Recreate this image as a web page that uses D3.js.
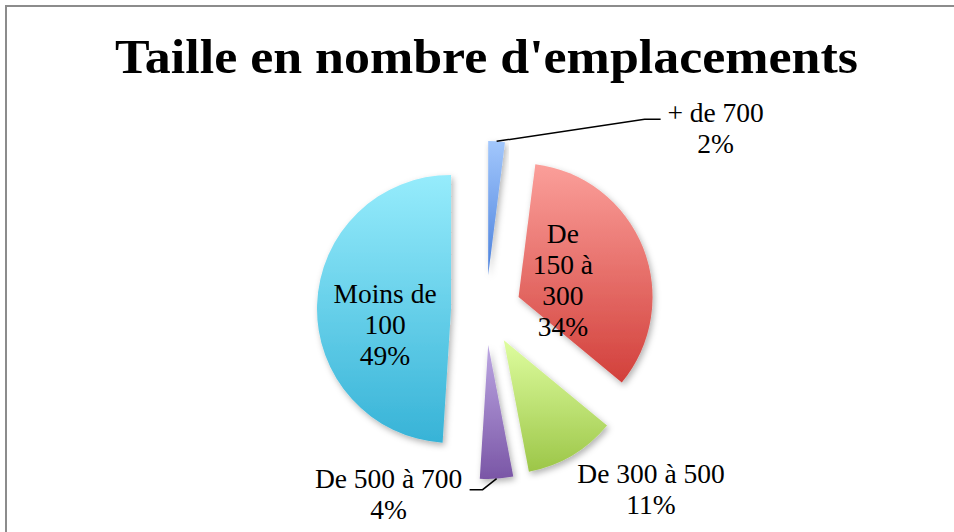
<!DOCTYPE html>
<html>
<head>
<meta charset="utf-8">
<script src="https://cdn.jsdelivr.net/npm/d3@7"></script>
<style>
  body { margin: 0; background: #fff; }
  svg { display: block; }
</style>
</head>
<body>
<svg id="drawing_region"></svg>
<script>
// data, clockwise from 12 o'clock
const categories = ["+ de 700", "De 150 à 300", "De 300 à 500", "De 500 à 700", "Moins de 100"];
const percents = [2, 34, 11, 4, 49];
const labelLines = [
    ["+ de 700", "2%"],
    ["De", "150 à", "300", "34%"],
    ["De 300 à 500", "11%"],
    ["De 500 à 700", "4%"],
    ["Moins de", "100", "49%"]
];
const topColors = ["#a2c7fc", "#fb9f9a", "#defd9f", "#bca7e3", "#96ecfc"];
const bottomColors = ["#4a80dc", "#d2403b", "#9cc648", "#7a56a6", "#37b3d7"];

var config = {
    parent: '#drawing_region',
    width: 954,
    height: 532,
    cx: 486,
    cy: 310,
    radius: 134,
    explode: 35
};

// label placement: inside labels relative to the half-radius point,
// outside labels relative to the outer arc point
const labelLayout = [
    { where: 'out', dx: 219, dy: -19, leader: [[148, -22], [164, -22]] },
    { where: 'in', dx: -18, dy: -29 },
    { where: 'out', dx: 79, dy: 28 },
    { where: 'out', dx: -108, dy: 9, leader: [[-14, 11], [-27, 11]] },
    { where: 'in', dx: 1, dy: -4 }
];
const lineHeight = 31;

const data = categories.map((c, i) => ({ name: c, value: percents[i], i: i }));

const svg = d3.select(config.parent)
    .attr('width', config.width)
    .attr('height', config.height);

// frame
svg.append('rect')
    .attr('x', 6).attr('y', 6)
    .attr('width', config.width + 10).attr('height', config.height + 10)
    .attr('fill', '#fff')
    .attr('stroke', '#8c8c8c')
    .attr('stroke-width', 2);

const defs = svg.append('defs');

const shadow = defs.append('filter')
    .attr('id', 'shadow')
    .attr('x', '-20%').attr('y', '-20%')
    .attr('width', '140%').attr('height', '140%');
shadow.append('feDropShadow')
    .attr('dx', 2).attr('dy', 3)
    .attr('stdDeviation', 3)
    .attr('flood-color', '#000')
    .attr('flood-opacity', 0.3);

data.forEach(d => {
    const g = defs.append('linearGradient')
        .attr('id', 'grad' + d.i)
        .attr('x1', 0).attr('y1', 0)
        .attr('x2', 0).attr('y2', 1);
    g.append('stop').attr('offset', '0%').attr('stop-color', topColors[d.i]);
    g.append('stop').attr('offset', '100%').attr('stop-color', bottomColors[d.i]);
});

// title
svg.append('text')
    .attr('x', 486.5)
    .attr('y', 73)
    .attr('text-anchor', 'middle')
    .attr('font-family', '"Liberation Serif", serif')
    .attr('font-weight', 'bold')
    .attr('font-size', '49px')
    .attr('textLength', 743)
    .attr('lengthAdjust', 'spacingAndGlyphs')
    .text("Taille en nombre d'emplacements");

const pie = d3.pie()
    .sort(null)
    .value(d => d.value)
    .startAngle(0)
    .endAngle(2 * Math.PI);

const arc = d3.arc()
    .innerRadius(0)
    .outerRadius(config.radius);

const arcs = pie(data);

const midAngle = a => (a.startAngle + a.endAngle) / 2;
const dir = a => [Math.sin(midAngle(a)), -Math.cos(midAngle(a))];

const chart = svg.append('g')
    .attr('transform', `translate(${config.cx}, ${config.cy})`);

chart.selectAll('path')
    .data(arcs)
    .join('path')
    .attr('transform', a => {
        const [ux, uy] = dir(a);
        return `translate(${ux * config.explode}, ${uy * config.explode})`;
    })
    .attr('d', arc)
    .attr('fill', a => `url(#grad${a.data.i})`)
    .attr('filter', 'url(#shadow)');

// labels
const labels = chart.append('g')
    .attr('font-family', '"Liberation Serif", serif')
    .attr('font-size', '27.5px')
    .attr('fill', '#000')
    .attr('text-anchor', 'middle');

arcs.forEach(a => {
    const lay = labelLayout[a.data.i];
    const [ux, uy] = dir(a);
    const r = lay.where === 'in' ? config.radius * 0.5 : config.radius;
    const px = ux * (config.explode + r);
    const py = uy * (config.explode + r);

    if (lay.leader) {
        const pts = [[px, py]].concat(lay.leader.map(p => [px + p[0], py + p[1]]));
        labels.append('path')
            .attr('d', d3.line()(pts))
            .attr('fill', 'none')
            .attr('stroke', '#000')
            .attr('stroke-width', 1.5);
    }

    const t = labels.append('text')
        .attr('x', px + lay.dx)
        .attr('y', py + lay.dy);
    labelLines[a.data.i].forEach((ln, k) => {
        t.append('tspan')
            .attr('x', px + lay.dx)
            .attr('dy', k === 0 ? 0 : lineHeight)
            .text(ln);
    });
});
</script>
</body>
</html>
